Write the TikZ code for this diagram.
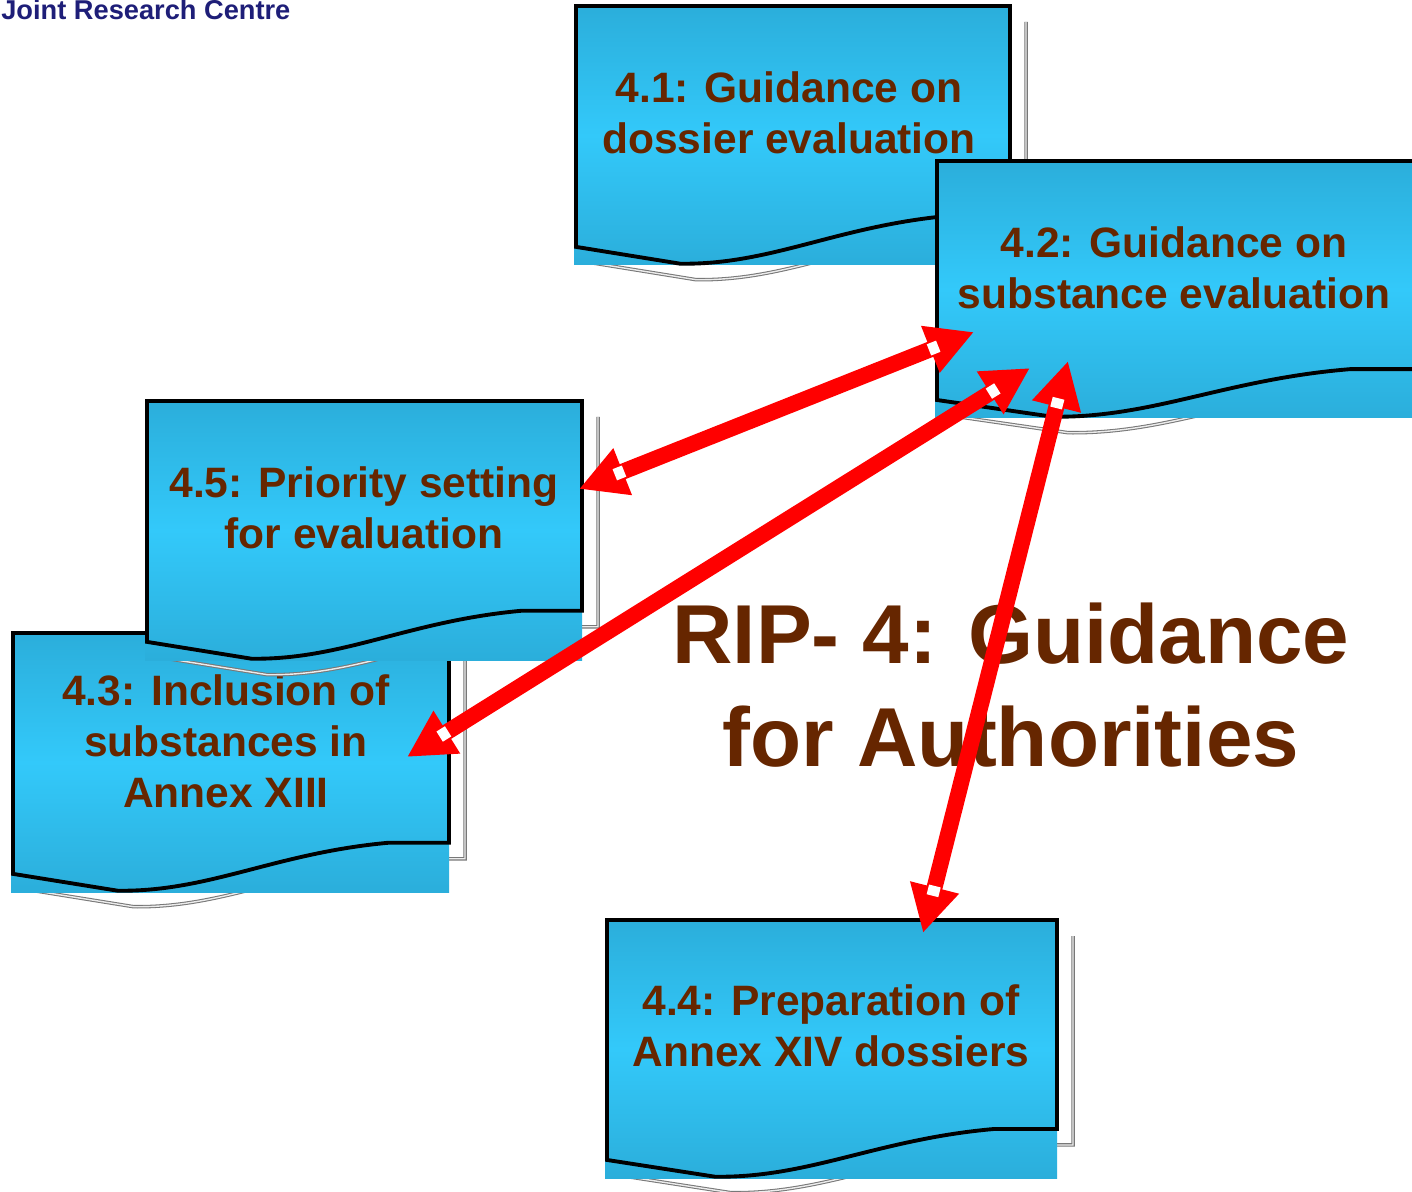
\documentclass[tikz,border=0pt]{standalone}
\usepackage{fontspec}
\setmainfont{Liberation Sans}
\usetikzlibrary{arrows.meta,calc}
\definecolor{boxdark}{RGB}{43,174,219}
\definecolor{boxlight}{RGB}{51,201,250}
\definecolor{txtbrown}{RGB}{102,38,0}
\definecolor{jrcblue}{RGB}{30,30,120}
\definecolor{shadowgray}{RGB}{120,120,120}
\definecolor{arrowred}{RGB}{255,0,0}
% #1 x0, #2 y0, #3 width, #4 height (pixel units, y downwards)
\newcommand\docbox[4]{%
  \draw[shadowline] (#1+16+#3,#2+16) -- (#1+16+#3,#2+16+0.81*#4) -- (#1+16+0.86*#3,#2+16+0.81*#4)
     .. controls (#1+16+0.6*#3,#2+16+0.85*#4) and (#1+16+0.45*#3,#2+16+#4) .. (#1+16+0.24*#3,#2+16+0.995*#4)
     -- (#1+16,#2+16+0.93*#4);
  \fill[boxfill] (#1-2,#2) rectangle (#1+#3,#2+#4);
  \draw[boxline] (#1,#2) -- (#1+#3,#2) -- (#1+#3,#2+0.81*#4) -- (#1+0.86*#3,#2+0.81*#4)
     .. controls (#1+0.6*#3,#2+0.85*#4) and (#1+0.45*#3,#2+#4) .. (#1+0.24*#3,#2+0.995*#4)
     -- (#1,#2+0.93*#4) -- cycle;
}
% white notch behind an arrow head: #1 tip, #2 other end
\newcommand\notch[2]{%
  \draw[notchline] ($(#1)!0.77cm!(#2)$) -- ($(#1)!0.97cm!(#2)$);
}
\tikzset{
  shadowline/.style={draw=shadowgray, line width=0.6pt, double=gray!15, double distance=0.8pt},
  boxfill/.style={top color=boxdark, bottom color=boxdark, middle color=boxlight},
  boxline/.style={draw=black, line width=2.2pt, line join=miter},
  boxtext/.style={text=txtbrown, align=center, inner sep=0pt, font=\bfseries\fontsize{24.2}{29}\selectfont},
  titletext/.style={text=txtbrown, align=center, inner sep=0pt, font=\bfseries\fontsize{47.6}{58.6}\selectfont},
  link/.style={draw=arrowred, line width=0.32cm, <->, >={Triangle[length=0.94cm,width=0.94cm]}},
  notchline/.style={draw=white, line width=0.24cm},
}
\begin{document}
\begin{tikzpicture}[x=0.02cm, y=-0.02cm]
\useasboundingbox (0,0) rectangle (1412,1192);
\clip (0,0) rectangle (1412,1192);
\fill[white] (0,0) rectangle (1412,1192);

\node[anchor=base west, inner sep=0pt, text=jrcblue, font=\bfseries\fontsize{15.5}{18}\selectfont] (jrc) at (1,20) {Joint Research Centre};

% 4.1
\docbox{576}{6}{434}{259}
\node[boxtext] (t41) at (789,113) {4.1: Guidance on\\dossier evaluation};
% 4.2
\docbox{937}{161}{480}{257}
\node[boxtext] (t42) at (1174,268) {4.2: Guidance on\\substance evaluation};
% 4.3
\docbox{13}{633}{436}{259}
\node[boxtext] (t43) at (226,741) {4.3: Inclusion of\\substances in\\Annex XIII};
% 4.5
\docbox{147}{401}{435}{259}
\node[boxtext] (t45) at (364,508) {4.5: Priority setting\\for evaluation};
% 4.4
\docbox{607}{920}{450}{258}
\node[boxtext] (t44) at (831,1026) {4.4: Preparation of\\Annex XIV dossiers};

% title
\node[titletext] (title) at (1011,685) {RIP- 4: Guidance\\for Authorities};

% arrow ends
\coordinate (a42a) at (974,332);
\coordinate (a45) at (579,489);
\coordinate (a42b) at (1030,368);
\coordinate (a43) at (407,757);
\coordinate (a42c) at (1068,361);
\coordinate (a44) at (923,933);

\draw[link] (a45) -- (a42a);
\draw[link] (a43) -- (a42b);
\draw[link] (a44) -- (a42c);

\notch{a45}{a42a}
\notch{a42a}{a45}
\notch{a43}{a42b}
\notch{a42b}{a43}
\notch{a44}{a42c}
\notch{a42c}{a44}
\end{tikzpicture}
\end{document}
